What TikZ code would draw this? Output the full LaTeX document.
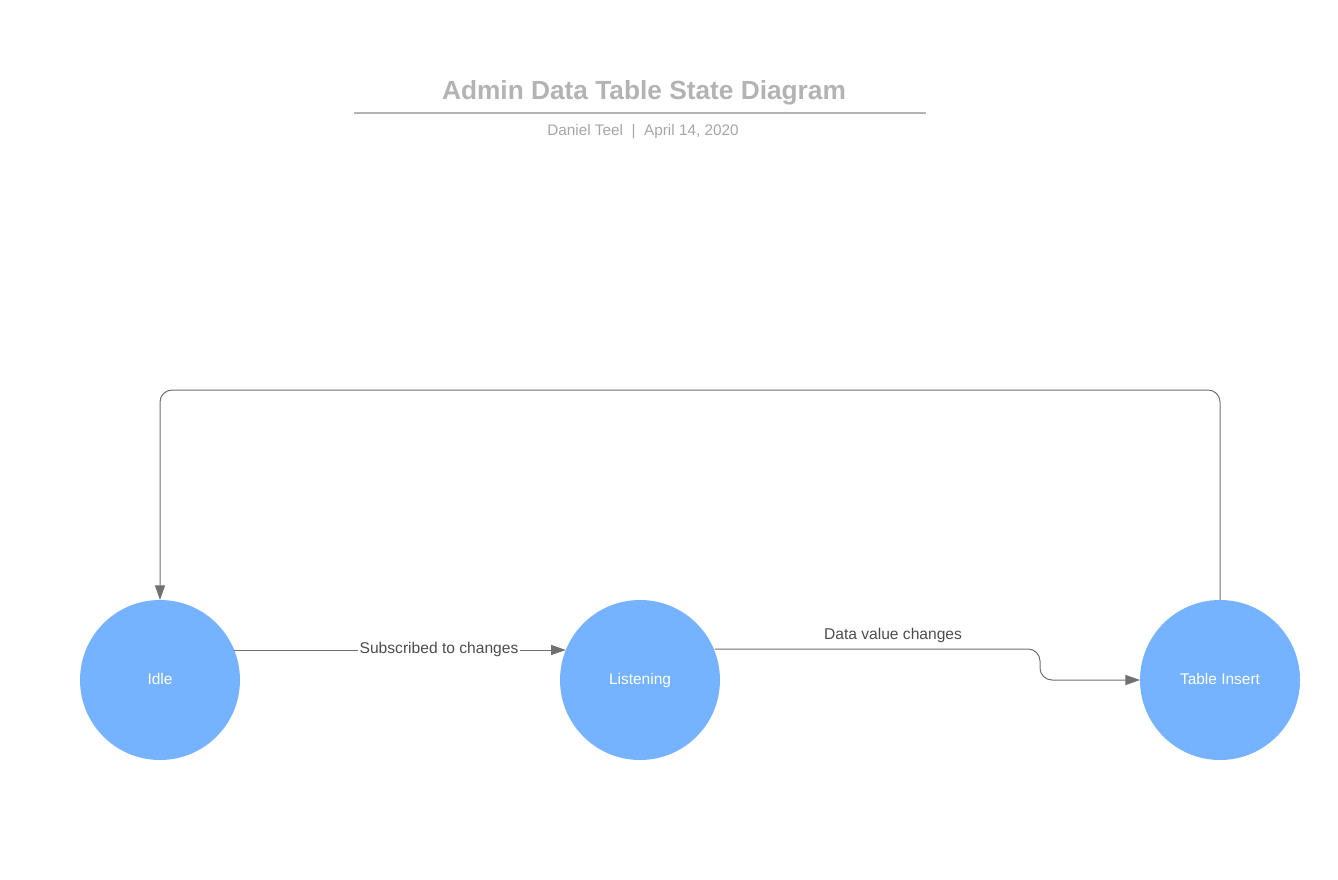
\documentclass[tikz,border=0pt]{standalone}
\usepackage{fontspec}
\setmainfont{Liberation Sans}
\usetikzlibrary{arrows.meta}
\definecolor{stateblue}{HTML}{75B2FF}
\definecolor{linegray}{HTML}{707070}
\definecolor{titlegray}{HTML}{B3B3B3}
\definecolor{subgray}{HTML}{A6A6A6}
\definecolor{labelgray}{HTML}{4D4D4D}
\newcommand{\statetext}[1]{\raisebox{1.2pt}{#1}}
\tikzset{
  statenode/.style={circle, fill=stateblue, draw=none, minimum size=120pt, inner sep=0pt, outer sep=0pt, text=white, font=\fontsize{11.6pt}{13pt}\selectfont},
  conn/.style={draw=linegray, line width=0.75pt, -{Triangle[length=11pt,width=7.5pt]}},
  edgelabel/.style={text=labelgray, font=\fontsize{11.7pt}{13pt}\selectfont, inner sep=1pt},
}
\begin{document}
\begin{tikzpicture}[x=0.75pt, y=-0.75pt]
\useasboundingbox (0,0) rectangle (1338,880);
% title
\node[text=titlegray, font=\bfseries\fontsize{19.7pt}{22pt}\selectfont] (title) at (644,93) {Admin Data Table State Diagram};
\coordinate (tl) at (354,113);
\coordinate (tr) at (926,113);
\draw[draw=titlegray, line width=1.2pt] (tl) -- (tr);
\node[text=subgray, font=\fontsize{11.5pt}{13pt}\selectfont] (sub) at (643,132) {Daniel Teel\ \ |\ \ April 14, 2020};
% states
\node[statenode] (idle) at (160,680) {\statetext{Idle}};
\node[statenode] (listen) at (640,680) {\statetext{Listening}};
\node[statenode] (insert) at (1220,680) {\statetext{Table Insert}};
% connectors
\draw[conn] ([shift={(74.2,-30)}]idle.center) -- ([shift={(-74.2,-30)}]listen.center);
\node[edgelabel, fill=white] (l1) at (439,649) {Subscribed to changes};
\coordinate (c2a) at (1040,649);
\coordinate (c2b) at (1040,680);
\draw[conn, rounded corners=9pt] ([shift={(74.6,-31)}]listen.center) -- (c2a) -- (c2b) -- (insert.west);
\node[edgelabel] (l2) at (893,635) {Data value changes};
\coordinate (c3a) at (1220,390);
\coordinate (c3b) at (160,390);
\draw[conn, rounded corners=9pt] (insert.north) -- (c3a) -- (c3b) -- (idle.north);
\end{tikzpicture}
\end{document}
